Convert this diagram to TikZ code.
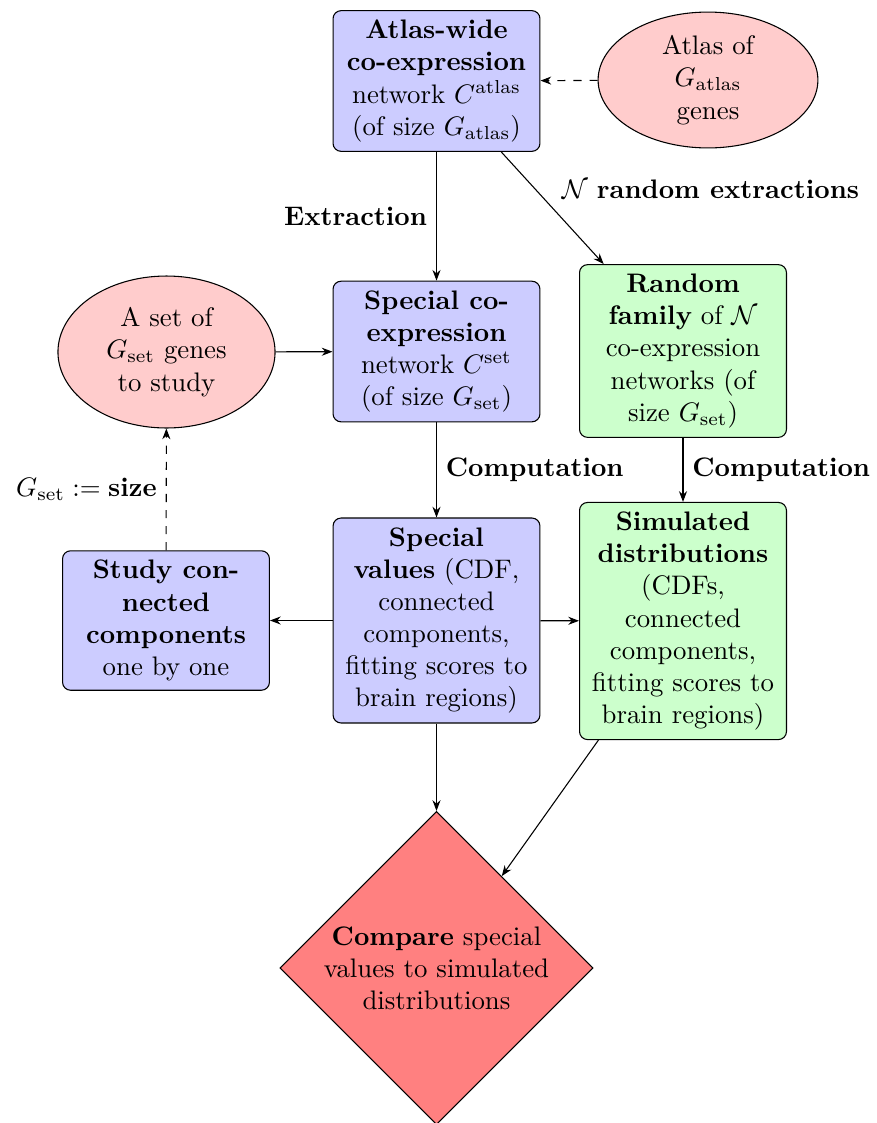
\documentclass[tikz,border=0pt]{standalone}
\usepackage{amsmath}
\usetikzlibrary{shapes.geometric,arrows.meta}
\begin{document}
\begin{tikzpicture}[x=0.3731pt,y=-0.3731pt,
  >={Stealth[length=4pt,width=3pt]},
  bluebox/.style={draw,rounded corners=3pt,fill=blue!20,align=center,minimum width=77.2pt,inner sep=3.5pt},
  greenbox/.style={draw,rounded corners=3pt,fill=green!20,align=center,minimum width=77.2pt,inner sep=3.5pt},
  pinkell/.style={draw,ellipse,fill=red!20,align=center,inner sep=0pt},
  lab/.style={font=\bfseries}]
\useasboundingbox (0,0) rectangle (876,1123);
\node[bluebox] (atlas) at (436.5,81) {\textbf{Atlas-wide}\\\textbf{co-expression}\\network $C^{\text{atlas}}$\\(of size $G_{\text{atlas}}$)};
\node[pinkell,minimum width=82pt,minimum height=50.7pt] (atlasgenes) at (708,80) {Atlas of\\$G_{\text{atlas}}$\\genes};
\node[bluebox] (spec) at (436.5,351.5) {\textbf{Special co-}\\\textbf{expression}\\network $C^{\text{set}}$\\(of size $G_{\text{set}}$)};
\node[greenbox] (rand) at (683,351) {\textbf{Random}\\\textbf{family} of $\mathcal{N}$\\co-expression\\networks (of\\size $G_{\text{set}}$)};
\node[pinkell,minimum width=81pt,minimum height=56.7pt] (setgenes) at (166.5,352) {A set of\\$G_{\text{set}}$ genes\\to study};
\node[bluebox] (vals) at (436.5,620.5) {\textbf{Special}\\\textbf{values} (CDF,\\connected\\components,\\fitting scores to\\brain regions)};
\node[greenbox] (sim) at (683,621) {\textbf{Simulated}\\\textbf{distributions}\\(CDFs,\\connected\\components,\\fitting scores to\\brain regions)};
\node[bluebox] (study) at (166,620.5) {\textbf{Study con-}\\\textbf{nected}\\\textbf{components}\\one by one};
\node[draw,diamond,fill=red!50,align=center,inner sep=0pt,minimum width=116.8pt,minimum height=116.8pt] (cmp) at (436.5,968) {\textbf{Compare} special\\values to simulated\\distributions};
\draw[->,dashed] (atlasgenes) -- (atlas);
\draw[->] (atlas) -- node[left,lab]{Extraction} (spec);
\draw[->] (atlas) -- node[above right]{$\mathcal{N}$ \textbf{random extractions}} (rand);
\draw[->] (setgenes) -- (spec);
\draw[->] (spec) -- node[right,lab]{Computation} (vals);
\draw[->] (rand) -- node[right,lab]{Computation} (sim);
\draw[->] (vals) -- (study);
\draw[->] (vals) -- (sim);
\draw[->,dashed] (study) -- node[left]{$G_{\text{set}} := \textbf{size}$} (setgenes);
\draw[->] (vals) -- (cmp);
\draw[->] (sim) -- (cmp);
\end{tikzpicture}
\end{document}
